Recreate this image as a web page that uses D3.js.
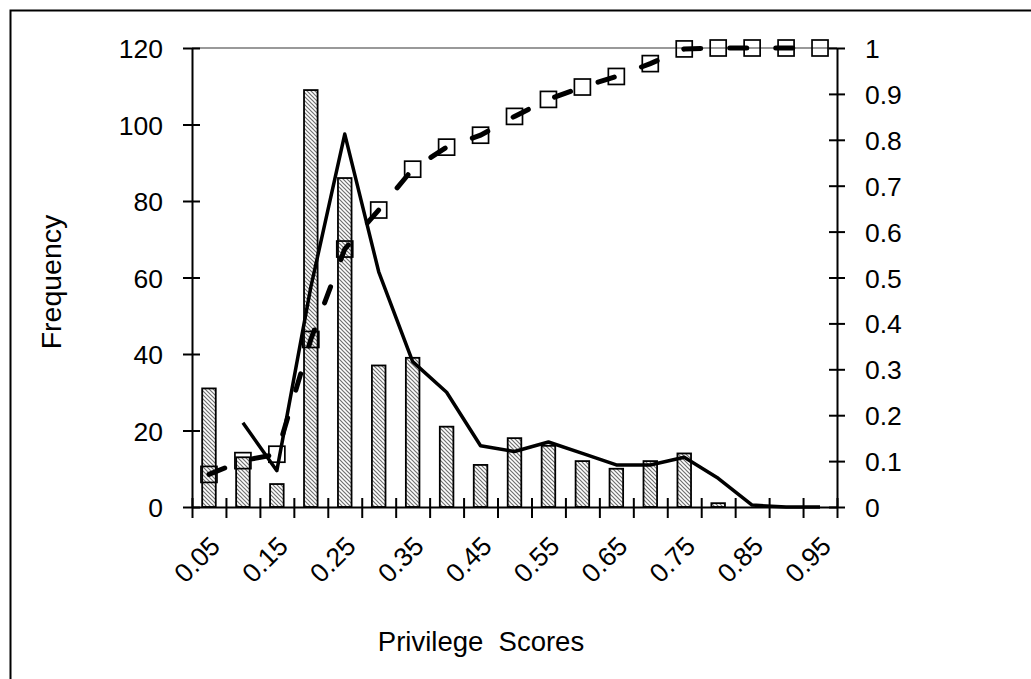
<!DOCTYPE html>
<html>
<head>
<meta charset="utf-8">
<script src="https://cdn.jsdelivr.net/npm/d3@7"></script>
<style>
  body { margin: 0; background: #fff; }
  svg { display: block; font-family: "Liberation Sans", Arial, sans-serif; }
</style>
</head>
<body>
<div id="chart"></div>
<script>
// privilege score bins
const categories = ["0.05", "0.10", "0.15", "0.20", "0.25", "0.30", "0.35", "0.40", "0.45", "0.50",
  "0.55", "0.60", "0.65", "0.70", "0.75", "0.80", "0.85", "0.90", "0.95"];
// bar heights (frequency)
const frequency = [31, 13, 6, 109, 86, 37, 39, 21, 11, 18, 16, 12, 10, 12, 14, 1, 0, 0, 0];
// solid line : 2 per. moving average (no value at the first bin)
const movingAvg = [null, 22, 9.5, 57.5, 97.5, 61.5, 38, 30, 16, 14.5, 17, 14, 11, 11, 13, 7.5, 0.5, 0, 0];
// dashed line with squares : cumulative share
const cumulative = [0.071, 0.101, 0.115, 0.365, 0.562, 0.647, 0.736, 0.784, 0.81, 0.851,
  0.888, 0.915, 0.938, 0.966, 0.998, 1, 1, 1, 1];
const leftTicks = [0, 20, 40, 60, 80, 100, 120];
const rightTicks = [0, 0.1, 0.2, 0.3, 0.4, 0.5, 0.6, 0.7, 0.8, 0.9, 1];

const W = 1031, H = 679;
const pLeft = 192, pRight = 837, pTop = 48, pBottom = 507;

const svg = d3.select("#chart").append("svg")
  .attr("width", W)
  .attr("height", H);

// hatch pattern for the bars
const pat = svg.append("defs").append("pattern")
  .attr("id", "hatch")
  .attr("patternUnits", "userSpaceOnUse")
  .attr("width", 4)
  .attr("height", 4);
pat.append("rect").attr("width", 4).attr("height", 4).attr("fill", "#fff");
pat.append("path")
  .attr("d", "M-1,-1 L5,5 M-1,3 L1,5 M3,-1 L5,1")
  .attr("stroke", "#707070")
  .attr("stroke-width", 1.2);

// outer frame (right and bottom edges are outside the picture)
svg.append("rect")
  .attr("x", 10.5).attr("y", 10.5)
  .attr("width", 1100).attr("height", 800)
  .attr("fill", "none")
  .attr("stroke", "#000")
  .attr("stroke-width", 2);

let x = d3.scaleBand()
  .domain(categories)
  .range([pLeft, pRight]);

let xEdge = d3.scaleLinear()
  .domain([0, categories.length])
  .range([pLeft, pRight]);

let yL = d3.scaleLinear().domain([0, 120]).range([pBottom, pTop]);
let yR = d3.scaleLinear().domain([0, 1]).range([pBottom, pTop]);

const cx = d => x(d) + x.bandwidth() / 2;

// top border of plot area
svg.append("line")
  .attr("x1", pLeft).attr("x2", pRight)
  .attr("y1", pTop).attr("y2", pTop)
  .attr("stroke", "#999")
  .attr("stroke-width", 2);

// bars
const barW = x.bandwidth() * 0.4;
svg.selectAll("rect.bar")
  .data(categories)
  .enter()
  .append("rect")
  .attr("class", "bar")
  .attr("x", d => cx(d) - barW / 2)
  .attr("y", (d, i) => yL(frequency[i]))
  .attr("width", barW)
  .attr("height", (d, i) => pBottom - yL(frequency[i]))
  .attr("fill", "url(#hatch)")
  .attr("stroke", (d, i) => frequency[i] > 0 ? "#000" : "none")
  .attr("stroke-width", 1.8);

// moving average line
let maLine = d3.line()
  .defined(d => d.v != null)
  .x(d => cx(d.c))
  .y(d => yL(d.v));
svg.append("path")
  .datum(categories.map((c, i) => ({ c: c, v: movingAvg[i] })))
  .attr("d", maLine)
  .attr("fill", "none")
  .attr("stroke", "#000")
  .attr("stroke-width", 3.5)
  .attr("stroke-linejoin", "round");

// cumulative dashed line
let cumLine = d3.line()
  .x(d => cx(d.c))
  .y(d => yR(d.v));
svg.append("path")
  .datum(categories.map((c, i) => ({ c: c, v: cumulative[i] })))
  .attr("d", cumLine)
  .attr("fill", "none")
  .attr("stroke", "#000")
  .attr("stroke-width", 5)
  .attr("stroke-linecap", "round")
  .attr("stroke-dasharray", "17,29");

const sq = 16;
svg.selectAll("rect.marker")
  .data(categories)
  .enter()
  .append("rect")
  .attr("class", "marker")
  .attr("x", d => cx(d) - sq / 2)
  .attr("y", (d, i) => yR(cumulative[i]) - sq / 2)
  .attr("width", sq)
  .attr("height", sq)
  .attr("fill", "none")
  .attr("stroke", "#000")
  .attr("stroke-width", 1.7);

// axes
function styleAxis(g) {
  g.select(".domain").attr("stroke-width", 2);
  g.selectAll(".tick line").attr("stroke-width", 2);
  g.selectAll("text").attr("font-size", "26.5px").attr("fill", "#000");
}

let gL = svg.append("g")
  .attr("transform", `translate(${pLeft},0)`)
  .call(d3.axisLeft(yL).tickValues(leftTicks).tickSizeOuter(0));
styleAxis(gL);
gL.selectAll(".tick line").attr("x1", 8).attr("x2", -9);
gL.selectAll(".tick text").attr("x", -29).attr("dy", "0.36em");

let gR = svg.append("g")
  .attr("transform", `translate(${pRight},0)`)
  .call(d3.axisRight(yR).tickValues(rightTicks).tickFormat(d3.format("~g")).tickSizeOuter(0));
styleAxis(gR);
gR.selectAll(".tick line").attr("x1", -8).attr("x2", 8);
gR.selectAll(".tick text").attr("x", 28).attr("dy", "0.36em");

let gB = svg.append("g")
  .attr("transform", `translate(0,${pBottom})`)
  .call(d3.axisBottom(xEdge).tickValues(d3.range(0, categories.length + 1)).tickFormat("").tickSizeOuter(0));
styleAxis(gB);
gB.selectAll(".tick line").attr("y1", -9).attr("y2", 11);

// rotated category labels, every other bin
svg.selectAll("text.xlab")
  .data(categories.filter((d, i) => i % 2 == 0))
  .enter()
  .append("text")
  .attr("class", "xlab")
  .attr("transform", d => `translate(${cx(d) + 6},${pBottom + 34}) rotate(-45)`)
  .attr("text-anchor", "end")
  .attr("dy", "0.36em")
  .attr("font-size", "26.5px")
  .text(d => d);

// axis titles
svg.append("text")
  .attr("transform", `translate(61,282) rotate(-90)`)
  .attr("text-anchor", "middle")
  .attr("font-size", "28.5px")
  .text("Frequency");

svg.append("text")
  .attr("x", 481)
  .attr("y", 651)
  .attr("text-anchor", "middle")
  .attr("font-size", "27.5px")
  .style("white-space", "pre")
  .text("Privilege  Scores");
</script>
</body>
</html>
